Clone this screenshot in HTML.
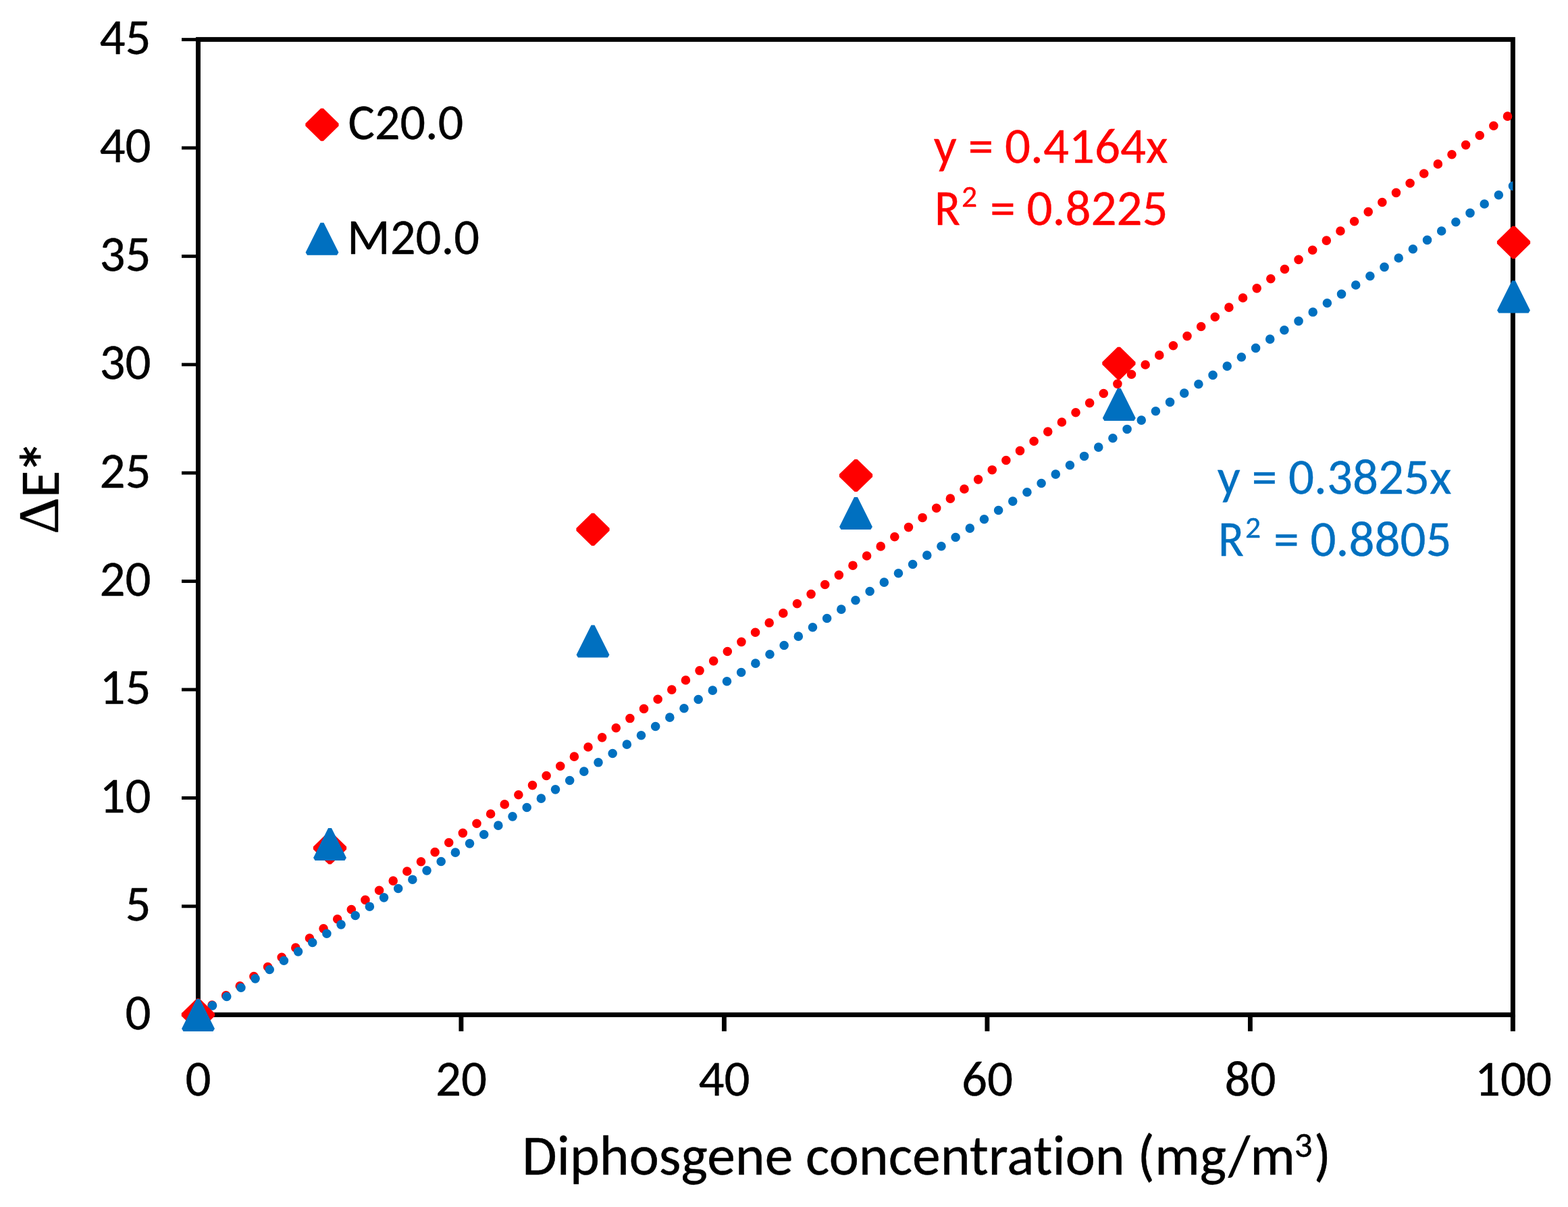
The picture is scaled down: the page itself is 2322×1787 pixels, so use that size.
<!DOCTYPE html>
<html><head><meta charset="utf-8"><title>Diphosgene concentration chart</title>
<style>html,body{margin:0;padding:0;background:#fff;overflow:hidden;}svg{display:block;}</style></head>
<body><svg width="2322" height="1787" viewBox="0 0 2322 1787" style="font-variant-ligatures:none;font-kerning:normal;font-size-adjust:0.47754" font-family="Carlito, 'Liberation Sans', Arial, sans-serif" font-size="75" fill="#000">
<rect width="2322" height="1787" fill="#fff"/>
<rect x="293.45" y="58.4" width="1946.95" height="1444.00" fill="none" stroke="#000" stroke-width="7"/>
<g stroke="#000">
<line x1="269" y1="1502.20" x2="293.45" y2="1502.20" stroke-width="4.9"/>
<line x1="269" y1="1341.80" x2="293.45" y2="1341.80" stroke-width="4.9"/>
<line x1="269" y1="1181.40" x2="293.45" y2="1181.40" stroke-width="4.9"/>
<line x1="269" y1="1021.00" x2="293.45" y2="1021.00" stroke-width="4.9"/>
<line x1="269" y1="860.60" x2="293.45" y2="860.60" stroke-width="4.9"/>
<line x1="269" y1="700.20" x2="293.45" y2="700.20" stroke-width="4.9"/>
<line x1="269" y1="539.80" x2="293.45" y2="539.80" stroke-width="4.9"/>
<line x1="269" y1="379.40" x2="293.45" y2="379.40" stroke-width="4.9"/>
<line x1="269" y1="219.00" x2="293.45" y2="219.00" stroke-width="4.9"/>
<line x1="269" y1="58.60" x2="293.45" y2="58.60" stroke-width="4.9"/>
<line x1="293.45" y1="1502.4" x2="293.45" y2="1526.8" stroke-width="7"/>
<line x1="682.90" y1="1502.4" x2="682.90" y2="1526.8" stroke-width="6.9"/>
<line x1="1072.40" y1="1502.4" x2="1072.40" y2="1526.8" stroke-width="6.9"/>
<line x1="1461.90" y1="1502.4" x2="1461.90" y2="1526.8" stroke-width="6.9"/>
<line x1="1851.40" y1="1502.4" x2="1851.40" y2="1526.8" stroke-width="6.9"/>
<line x1="2240.40" y1="1502.4" x2="2240.40" y2="1526.8" stroke-width="7"/>
</g>
<g stroke-width="0.4" stroke-linejoin="round">
<text x="223.50" y="1523.60" text-anchor="end" stroke="#000" textLength="38.02" lengthAdjust="spacingAndGlyphs">0</text>
<text x="223.50" y="1363.20" text-anchor="end" stroke="#000" textLength="38.02" lengthAdjust="spacingAndGlyphs">5</text>
<text x="223.50" y="1202.80" text-anchor="end" stroke="#000" textLength="76.03" lengthAdjust="spacingAndGlyphs">10</text>
<text x="223.50" y="1042.40" text-anchor="end" stroke="#000" textLength="76.03" lengthAdjust="spacingAndGlyphs">15</text>
<text x="223.50" y="882.00" text-anchor="end" stroke="#000" textLength="76.03" lengthAdjust="spacingAndGlyphs">20</text>
<text x="223.50" y="721.60" text-anchor="end" stroke="#000" textLength="76.03" lengthAdjust="spacingAndGlyphs">25</text>
<text x="223.50" y="561.20" text-anchor="end" stroke="#000" textLength="76.03" lengthAdjust="spacingAndGlyphs">30</text>
<text x="223.50" y="400.80" text-anchor="end" stroke="#000" textLength="76.03" lengthAdjust="spacingAndGlyphs">35</text>
<text x="223.50" y="240.40" text-anchor="end" stroke="#000" textLength="76.03" lengthAdjust="spacingAndGlyphs">40</text>
<text x="223.50" y="80.00" text-anchor="end" stroke="#000" textLength="76.03" lengthAdjust="spacingAndGlyphs">45</text>
<text x="293.40" y="1622.00" text-anchor="middle" stroke="#000" textLength="38.02" lengthAdjust="spacingAndGlyphs">0</text>
<text x="682.90" y="1622.00" text-anchor="middle" stroke="#000" textLength="76.03" lengthAdjust="spacingAndGlyphs">20</text>
<text x="1072.40" y="1622.00" text-anchor="middle" stroke="#000" textLength="76.03" lengthAdjust="spacingAndGlyphs">40</text>
<text x="1461.90" y="1622.00" text-anchor="middle" stroke="#000" textLength="76.03" lengthAdjust="spacingAndGlyphs">60</text>
<text x="1851.40" y="1622.00" text-anchor="middle" stroke="#000" textLength="76.03" lengthAdjust="spacingAndGlyphs">80</text>
<text x="2240.90" y="1622.00" text-anchor="middle" stroke="#000" textLength="114.05" lengthAdjust="spacingAndGlyphs">100</text>
<text x="515.60" y="206.00" stroke="#000" textLength="170.57" lengthAdjust="spacingAndGlyphs">C20.0</text>
<text x="514.10" y="376.00" stroke="#000" textLength="195.91" lengthAdjust="spacingAndGlyphs">M20.0</text>
<text x="1382.80" y="240.80" fill="#FF0000" stroke="#FF0000" textLength="346.70" lengthAdjust="spacingAndGlyphs">y = 0.4164x</text>
<text x="1383.90" y="332.60" fill="#FF0000" stroke="#FF0000" textLength="38.00" lengthAdjust="spacingAndGlyphs">R</text>
<text x="1423.90" y="306.00" fill="#FF0000" stroke="#FF0000" font-size="45.5" textLength="23.06" lengthAdjust="spacingAndGlyphs">2</text>
<text x="1466.30" y="332.60" fill="#FF0000" stroke="#FF0000" textLength="263.31" lengthAdjust="spacingAndGlyphs">= 0.8225</text>
<text x="1802.80" y="730.80" fill="#0070C0" stroke="#0070C0" textLength="346.70" lengthAdjust="spacingAndGlyphs">y = 0.3825x</text>
<text x="1803.90" y="822.60" fill="#0070C0" stroke="#0070C0" textLength="38.00" lengthAdjust="spacingAndGlyphs">R</text>
<text x="1843.90" y="796.00" fill="#0070C0" stroke="#0070C0" font-size="45.5" textLength="23.06" lengthAdjust="spacingAndGlyphs">2</text>
<text x="1886.30" y="822.60" fill="#0070C0" stroke="#0070C0" textLength="263.31" lengthAdjust="spacingAndGlyphs">= 0.8805</text>
<text x="773.30" y="1738.60" stroke="#000" font-size="83.33" textLength="1144.72" lengthAdjust="spacingAndGlyphs">Diphosgene concentration (mg/m</text>
<text x="1916.70" y="1712.80" stroke="#000" font-size="53" textLength="26.88" lengthAdjust="spacingAndGlyphs">3</text>
<text x="1945.70" y="1738.60" stroke="#000" font-size="83.33" textLength="25.28" lengthAdjust="spacingAndGlyphs">)</text>
</g>
<g transform="translate(87,788) rotate(-90)" stroke="#000" stroke-width="0.4" stroke-linejoin="round">
<text x="-2.75" y="-1.3" style="font-size-adjust:none" font-family="'Liberation Serif', 'Times New Roman', serif" font-size="84.5" textLength="54.34" lengthAdjust="spacingAndGlyphs">Δ</text>
<text x="51.1" y="0" font-size="82.5" textLength="40.30" lengthAdjust="spacingAndGlyphs">E</text>
<text x="86.7" y="13.9" font-size="100" stroke-width="1" textLength="49.81" lengthAdjust="spacingAndGlyphs">*</text>
</g>
<defs><clipPath id="pa"><rect x="293.45" y="58.4" width="1946.95" height="1444.00"/></clipPath></defs>
<g clip-path="url(#pa)" fill="none" stroke-width="13.6" stroke-linecap="round" stroke-dasharray="0 25.015">
<line x1="293.40" y1="1502.20" x2="2240.90" y2="166.39" stroke="#FF0000"/>
<line x1="293.40" y1="1502.20" x2="2240.90" y2="275.14" stroke="#0070C0"/>
</g>
<polygon points="293.40,1480.10 316.10,1502.20 293.40,1524.30 270.70,1502.20" fill="#FF0000" stroke="#FF0000" stroke-width="5.5" stroke-linejoin="bevel"/>
<polygon points="488.50,1233.40 511.20,1255.50 488.50,1277.60 465.80,1255.50" fill="#FF0000" stroke="#FF0000" stroke-width="5.5" stroke-linejoin="bevel"/>
<polygon points="878.00,761.80 900.70,783.90 878.00,806.00 855.30,783.90" fill="#FF0000" stroke="#FF0000" stroke-width="5.5" stroke-linejoin="bevel"/>
<polygon points="1267.50,681.85 1290.20,703.95 1267.50,726.05 1244.80,703.95" fill="#FF0000" stroke="#FF0000" stroke-width="5.5" stroke-linejoin="bevel"/>
<polygon points="1656.90,515.80 1679.60,537.90 1656.90,560.00 1634.20,537.90" fill="#FF0000" stroke="#FF0000" stroke-width="5.5" stroke-linejoin="bevel"/>
<polygon points="2241.50,336.80 2264.20,358.90 2241.50,381.00 2218.80,358.90" fill="#FF0000" stroke="#FF0000" stroke-width="5.5" stroke-linejoin="bevel"/>
<polygon points="293.50,1480.13 315.49,1524.15 271.51,1524.15" fill="#0070C0" stroke="#0070C0" stroke-width="5.5" stroke-linejoin="bevel"/>
<polygon points="488.50,1227.13 510.49,1271.15 466.51,1271.15" fill="#0070C0" stroke="#0070C0" stroke-width="5.5" stroke-linejoin="bevel"/>
<polygon points="878.00,926.83 899.99,970.85 856.01,970.85" fill="#0070C0" stroke="#0070C0" stroke-width="5.5" stroke-linejoin="bevel"/>
<polygon points="1267.45,737.13 1289.44,781.15 1245.46,781.15" fill="#0070C0" stroke="#0070C0" stroke-width="5.5" stroke-linejoin="bevel"/>
<polygon points="1657.30,576.13 1679.29,620.15 1635.31,620.15" fill="#0070C0" stroke="#0070C0" stroke-width="5.5" stroke-linejoin="bevel"/>
<polygon points="2241.50,416.63 2263.49,460.65 2219.51,460.65" fill="#0070C0" stroke="#0070C0" stroke-width="5.5" stroke-linejoin="bevel"/>
<polygon points="476.95,162.50 499.65,184.60 476.95,206.70 454.25,184.60" fill="#FF0000" stroke="#FF0000" stroke-width="5.5" stroke-linejoin="bevel"/>
<polygon points="477.00,330.98 498.99,375.00 455.01,375.00" fill="#0070C0" stroke="#0070C0" stroke-width="5.5" stroke-linejoin="bevel"/>
</svg></body></html>
